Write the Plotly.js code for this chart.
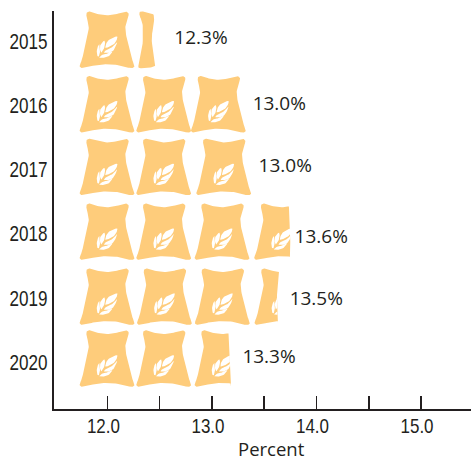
<!DOCTYPE html>
<html>
<head>
<meta charset="utf-8">
<script src="https://cdn.plot.ly/plotly-3.0.0.min.js"></script>
<style>html,body{margin:0;padding:0;background:#fff}#chart{width:471px;height:460px}</style>
</head>
<body>
<div id="chart"></div>
<script>
// Values
var years = [2015, 2016, 2017, 2018, 2019, 2020];
var values = [12.3, 13.0, 13.0, 13.6, 13.5, 13.3];
var xTickVals = [12, 12.5, 13, 13.5, 14, 14.5, 15];
var xTickText = ['12.0', '', '13.0', '', '14.0', '', '15.0'];

// Where the sacks sit (axis units)
var sackStarts = [
  [11.735],
  [11.735, 12.277, 12.800],
  [11.735, 12.277, 12.851],
  [11.735, 12.277, 12.835, 13.405],
  [11.735, 12.284, 12.838, 13.408],
  [11.735, 12.277, 12.835]
];
var sliverStarts = [12.299, null, null, null, null, null];
var cutTop = [99, 99, 99, 13.735, 13.644, 13.157];
var cutMid = [99, 99, 99, 13.750, 13.622, 13.171];
var cutBottom = [99, 99, 99, 13.745, 13.632, 13.183];
var rowShift = [-0.016, -0.012, -0.036, -0.027, -0.016, -0.052];
var labelX = [12.895, 13.644, 13.701, 14.045, 13.998, 13.546];
var labelShift = [-0.026, 0, -0.031, 0.073, 0.031, -0.058];
var sackWidth = 0.523, sackHeight = 0.883;

// Glyph outlines on a 164 x 170 design grid
var sackGlyph = [[20,12],[20,5],[27,0],[37,2],[57,8],[82,11],[107,8],[132,1],[142,1],[147,7],[145,16],[140,30],[137,48],[140,75],[150,113],[157,143],[164,161],[161,168],[150,169],[135,165],[112,160],[82,158],[52,160],[29,165],[14,169],[3,168],[0,161],[7,143],[14,113],[24,75],[27,48],[24,30]];
var sliverGlyph = [[2,8],[3,1],[13,0],[30,5],[45,10],[45,40],[39,80],[45,130],[50,158],[44,165],[25,169],[8,170],[0,168],[0,158],[10,115],[13,60],[10,30],[3,14]];
var leafGlyph = [
  [[115,74],[98,78],[84,87],[77,100],[76,110],[92,105],[107,94]],
  [[75,86],[65,94],[60,106],[63,124],[71,115],[76,102]],
  [[59,96],[52,110],[51,130],[57,136],[61,122],[60,110]],
  [[114,90],[100,105],[82,113],[71,124],[88,124],[103,115]],
  [[99,119],[84,126],[70,128],[57,138],[72,139],[89,133]]
];

function smooth(p) {
  var out = [], n = p.length;
  for (var i = 0; i < n; i++) {
    var a = p[(i - 1 + n) % n], b = p[i], c = p[(i + 1) % n], d = p[(i + 2) % n];
    for (var k = 0; k < 6; k++) {
      var t = k / 6, t2 = t * t, t3 = t2 * t;
      out.push([0, 1].map(function (j) {
        return 0.5 * (2 * b[j] + (c[j] - a[j]) * t + (2 * a[j] - 5 * b[j] + 4 * c[j] - d[j]) * t2 + (3 * b[j] - a[j] - 3 * c[j] + d[j]) * t3);
      }));
    }
  }
  return out;
}
function shrink(p, f) {
  var cx = 0, cy = 0;
  p.forEach(function (q) { cx += q[0] / p.length; cy += q[1] / p.length; });
  return p.map(function (q) { return [cx + (q[0] - cx) * f, cy + (q[1] - cy) * f]; });
}
function cutAt(row, v) {
  return v < 0.45
    ? cutTop[row] + (cutMid[row] - cutTop[row]) * v / 0.45
    : cutMid[row] + (cutBottom[row] - cutMid[row]) * Math.pow((v - 0.45) / 0.55, 2);
}
function place(poly, row, start, xs, ys) {
  var cy = years[row] + rowShift[row];
  poly.forEach(function (q) {
    var v = q[1] / 170;
    xs.push(Math.min(start + q[0] / 164 * sackWidth, cutAt(row, v)));
    ys.push(cy + (v - 0.5) * sackHeight);
  });
  xs.push(xs[xs.length - poly.length]);
  ys.push(ys[ys.length - poly.length]);
  xs.push(null); ys.push(null);
}

var sackOutline = smooth(sackGlyph);
var sliverOutline = smooth(sliverGlyph);
var leafOutlines = leafGlyph.map(function (l) { return smooth(shrink(l, 0.92)); });
var traces = [];
years.forEach(function (yr, row) {
  var sx = [], sy = [], lx = [], ly = [];
  sackStarts[row].forEach(function (start) {
    place(sackOutline, row, start, sx, sy);
    leafOutlines.forEach(function (l) { place(l, row, start, lx, ly); });
  });
  if (sliverStarts[row] !== null) place(sliverOutline, row, sliverStarts[row], sx, sy);
  traces.push({x: sx, y: sy, type: 'scatter', mode: 'lines', fill: 'toself', fillcolor: '#FECC7B',
    line: {width: 0, color: '#FECC7B'}, hoverinfo: 'skip', showlegend: false, name: String(yr)});
  traces.push({x: lx, y: ly, type: 'scatter', mode: 'lines', fill: 'toself', fillcolor: '#FFFFFF',
    line: {width: 0, color: '#FFFFFF'}, hoverinfo: 'skip', showlegend: false});
});
traces.push({
  x: labelX,
  y: years.map(function (y, i) { return y + labelShift[i]; }),
  text: values.map(function (v) { return v.toFixed(1) + '%'; }),
  type: 'scatter', mode: 'text', textposition: 'middle center',
  textfont: {family: '"Open Sans", sans-serif', size: 19, color: '#231F20'},
  hoverinfo: 'skip', showlegend: false, cliponaxis: false
});

var layout = {
  width: 471, height: 460,
  margin: {l: 53.5, r: 0, t: 11, b: 51},
  paper_bgcolor: '#fff', plot_bgcolor: '#fff',
  showlegend: false,
  xaxis: {
    range: [11.489, 15.478], tickmode: 'array', tickvals: xTickVals, ticktext: xTickText,
    ticks: 'inside', ticklen: 13, tickwidth: 1.6, tickcolor: '#231F20',
    showline: true, linecolor: '#231F20', linewidth: 2, showgrid: false, zeroline: false,
    ticklabelshift: -4, ticklabelstandoff: -3,
    tickfont: {family: '"Liberation Sans", sans-serif', size: 21, color: '#231F20'}
  },
  yaxis: {
    range: [2020.732, 2014.533], tickmode: 'array', tickvals: years, ticktext: years.map(String),
    ticks: '', showline: true, linecolor: '#231F20', linewidth: 2, showgrid: false, zeroline: false,
    tickfont: {family: '"Liberation Sans", sans-serif', size: 22.5, color: '#231F20'}
  },
  annotations: [{
    text: 'Percent', xref: 'x', yref: 'paper', x: 13.565, y: 0, yshift: -39,
    showarrow: false, xanchor: 'center', yanchor: 'middle',
    font: {family: '"Open Sans", sans-serif', size: 18.5, color: '#231F20'}
  }]
};
Plotly.newPlot('chart', traces, layout, {displayModeBar: false, staticPlot: true}).then(function () {
  // The reference's tick labels are a condensed face: narrow the real text to the same widths.
  function narrow(sel, w) {
    document.querySelectorAll(sel).forEach(function (t) {
      if (t.textContent) {
        t.setAttribute('textLength', w);
        t.setAttribute('lengthAdjust', 'spacingAndGlyphs');
      }
    });
  }
  narrow('.xtick text', 33);
  narrow('.ytick text', 38);
});
</script>
</body>
</html>
